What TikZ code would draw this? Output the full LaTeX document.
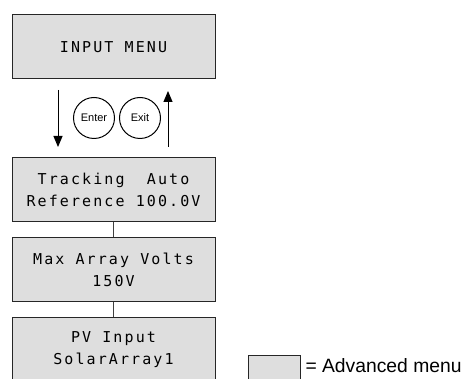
\documentclass[tikz,border=0pt]{standalone}
\usepackage{fontspec}
\setmainfont{Liberation Sans}
\newfontfamily\lcdfamily[LetterSpace=14]{DejaVu Sans Mono}
\newcommand\lcdfont{\lcdfamily\fontsize{15pt}{22pt}\selectfont}
\usetikzlibrary{arrows.meta}
\definecolor{menugray}{HTML}{DEDEDE}

\begin{document}
\begin{tikzpicture}[
                x=1pt,y=-1pt,
                line width=1pt,
                menubox/.style={draw=black!85,fill=menugray,align=center,font=\lcdfont,
                    minimum width=203pt,minimum height=64pt,inner sep=0pt},
                keycircle/.style={draw,circle,minimum size=41pt,inner sep=0pt,font=\fontsize{11pt}{12pt}\selectfont},
                menuarrow/.style={-{Triangle[length=11pt,width=9pt]}}]

                    \useasboundingbox (0,0) rectangle (464,379);

                    % top menu
                    \node[menubox] (InputMenu) at (113.5,47) {INPUT MENU}; % 1

                    % keys
                    \node[keycircle] (Enter) at (94,118) {Enter};
                    \node[keycircle] (Exit) at (140,118) {Exit};

                    \coordinate (DownA) at (58,90);
                    \coordinate (DownB) at (58,147);
                    \coordinate (UpA) at (168,147);
                    \coordinate (UpB) at (168,91);

                    \draw[menuarrow] (DownA) to (DownB);
                    \draw[menuarrow] (UpA) to (UpB);

                    % sub menus
                    \node[menubox] (Tracking) at (113.5,190) {Tracking~~Auto\\Reference 100.0V}; % 2
                    \node[menubox] (MaxVolts) at (113.5,270) {Max Array Volts\\150V}; % 3
                    \node[menubox] (PVInput) at (113.5,350) {PV Input\\SolarArray1}; % 4

                    \draw[black!75] (Tracking) to (MaxVolts);
                    \draw[black!75] (MaxVolts) to (PVInput);

                    % legend
                    \node[draw=black!85,fill=menugray,minimum width=52pt,minimum height=34pt,inner sep=0pt] (Legend) at (274,373) {};
                    \node[anchor=base west,inner sep=0pt,font=\fontsize{19.3pt}{20pt}\selectfont] (LegendText) at (305,372.5) {= Advanced menu};

                    \end{tikzpicture}
\end{document}
